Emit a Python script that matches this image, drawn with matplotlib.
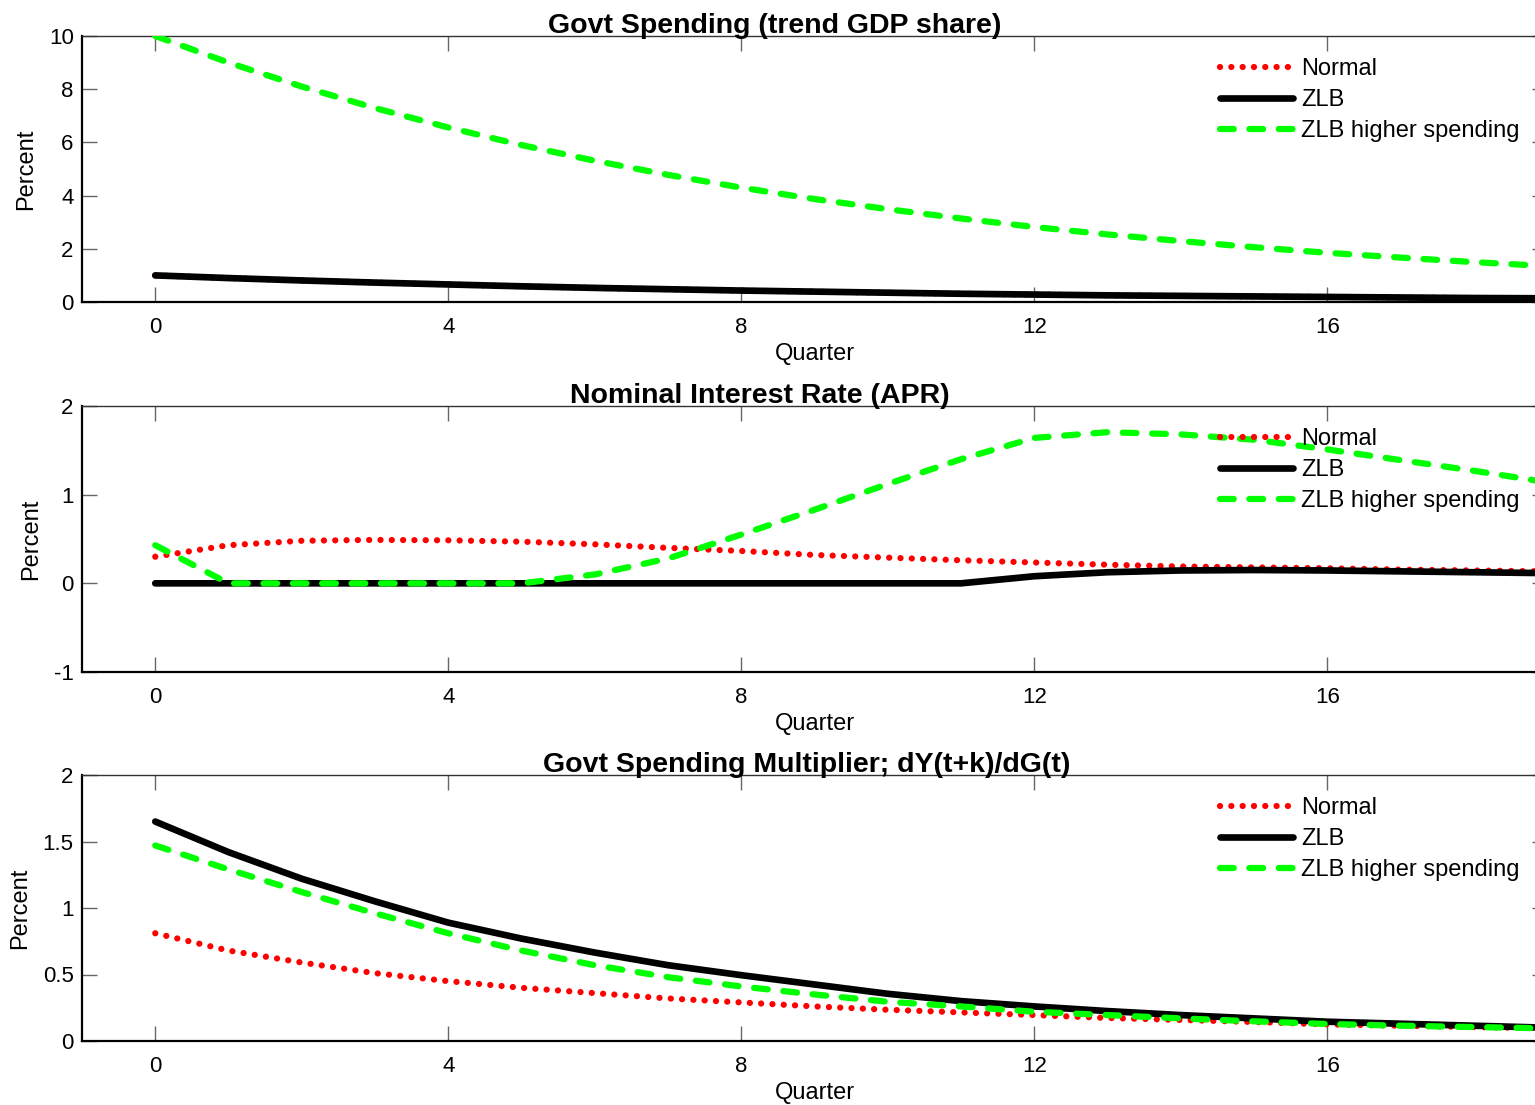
import matplotlib
matplotlib.use("Agg")
import matplotlib.pyplot as plt

plt.rcParams['font.family'] = ['Liberation Sans', 'DejaVu Sans']
plt.rcParams['axes.unicode_minus'] = False

quarters = list(range(20))

# Panel 1: Govt Spending (trend GDP share)
gov_normal = [1.0, 0.9, 0.81, 0.73, 0.66, 0.59, 0.53, 0.48, 0.43, 0.39,
              0.35, 0.31, 0.28, 0.25, 0.23, 0.21, 0.19, 0.17, 0.15, 0.14]
gov_zlb = [1.0, 0.9, 0.81, 0.73, 0.66, 0.59, 0.53, 0.48, 0.43, 0.39,
           0.35, 0.31, 0.28, 0.25, 0.23, 0.21, 0.19, 0.17, 0.15, 0.14]
gov_zlb_high = [10.0, 9.0, 8.1, 7.29, 6.56, 5.9, 5.31, 4.78, 4.3, 3.87,
                3.49, 3.14, 2.82, 2.54, 2.29, 2.06, 1.85, 1.67, 1.5, 1.35]

# Panel 2: Nominal Interest Rate (APR)
rate_normal = [0.30, 0.43, 0.48, 0.49, 0.485, 0.47, 0.44, 0.40, 0.365, 0.32,
               0.29, 0.26, 0.235, 0.21, 0.19, 0.18, 0.17, 0.155, 0.145, 0.135]
rate_zlb = [0, 0, 0, 0, 0, 0, 0, 0, 0, 0,
            0, 0, 0.08, 0.125, 0.145, 0.15, 0.145, 0.135, 0.125, 0.115]
rate_zlb_high = [0.43, 0, 0, 0, 0, 0, 0.10, 0.28, 0.55, 0.83,
                 1.12, 1.40, 1.64, 1.705, 1.68, 1.62, 1.51, 1.39, 1.27, 1.14]

# Panel 3: Govt Spending Multiplier
mult_normal = [0.81, 0.68, 0.59, 0.51, 0.45, 0.40, 0.36, 0.32, 0.29, 0.26,
               0.235, 0.215, 0.195, 0.173, 0.158, 0.143, 0.125, 0.115, 0.105, 0.095]
mult_zlb = [1.65, 1.42, 1.22, 1.05, 0.89, 0.77, 0.665, 0.57, 0.495, 0.425,
            0.355, 0.30, 0.26, 0.225, 0.195, 0.17, 0.145, 0.13, 0.115, 0.10]
mult_zlb_high = [1.47, 1.29, 1.12, 0.96, 0.81, 0.68, 0.57, 0.48, 0.41, 0.35,
                 0.295, 0.26, 0.22, 0.195, 0.17, 0.148, 0.128, 0.115, 0.105, 0.095]

titles = ["Govt Spending (trend GDP share)",
          "Nominal Interest Rate (APR)",
          "Govt Spending Multiplier; dY(t+k)/dG(t)"]
title_x = [0.473, 0.463, 0.495]
series = [(gov_normal, gov_zlb, gov_zlb_high),
          (rate_normal, rate_zlb, rate_zlb_high),
          (mult_normal, mult_zlb, mult_zlb_high)]
ylims = [(0, 10), (-1, 2), (0, 2)]
yticks = [[0, 2, 4, 6, 8, 10], [-1, 0, 1, 2], [0, 0.5, 1, 1.5, 2]]
yticklabels = [["0", "2", "4", "6", "8", "10"], ["-1", "0", "1", "2"],
               ["0", "0.5", "1", "1.5", "2"]]
xticks = [0, 4, 8, 12, 16]
labels = ["Normal", "ZLB", "ZLB higher spending"]

W, H = 1535, 1105
fig = plt.figure(figsize=(W / 100, H / 100), dpi=100)
left_px, right_px = 82, 1547
tops_px = [36, 406, 775]
ax_h_px = 266

for i in range(3):
    top = tops_px[i]
    ax = fig.add_axes([left_px / W, 1 - (top + ax_h_px) / H,
                       (right_px - left_px) / W, ax_h_px / H])
    n, z, g = series[i]
    ax.plot(quarters, n, color='#ff0000', lw=4.5, linestyle=(0, (0.01, 1.8)),
            dash_capstyle='round', label=labels[0], zorder=2)
    ax.plot(quarters, z, color='black', lw=4.8, solid_capstyle='round',
            solid_joinstyle='round', label=labels[1], zorder=3)
    ax.plot(quarters, g, color='#00ff00', lw=4.5, linestyle=(0, (2.2, 2.5)),
            dash_capstyle='round', label=labels[2], zorder=4)
    ax.set_xlim(-1, 19)
    ax.set_ylim(*ylims[i])
    ax.set_xticks(xticks)
    ax.set_yticks(yticks[i])
    ax.set_yticklabels(yticklabels[i])
    ax.tick_params(axis='both', direction='in', length=10.5, width=1.0,
                   color='#666666', labelsize=16, labelcolor='black',
                   top=True, right=True)
    ax.tick_params(axis='x', pad=10.5)
    ax.tick_params(axis='y', pad=6)
    for s in ['left', 'bottom']:
        ax.spines[s].set_linewidth(1.6)
        ax.spines[s].set_color('black')
    ax.spines['top'].set_linewidth(1.0)
    ax.spines['top'].set_color('#333333')
    ax.spines['right'].set_linewidth(1.0)
    ax.set_xlabel("Quarter", fontsize=17, labelpad=4.2)
    ax.set_ylabel("Percent", fontsize=17, labelpad=8.5)
    ax.annotate(titles[i], xy=(title_x[i], 1.0), xycoords='axes fraction',
                xytext=(0, 2.5), textcoords='offset points', ha='center',
                va='baseline', fontsize=20.5, fontweight='bold')
    leg = ax.legend(loc='upper left', frameon=False, fontsize=17,
                    bbox_to_anchor=(1220 / W, 1 - (top + 22) / H),
                    bbox_transform=fig.transFigure, borderpad=0,
                    borderaxespad=0, handlelength=3.1, handletextpad=0.35,
                    labelspacing=0.38)

fig.savefig("out.png", dpi=100)
